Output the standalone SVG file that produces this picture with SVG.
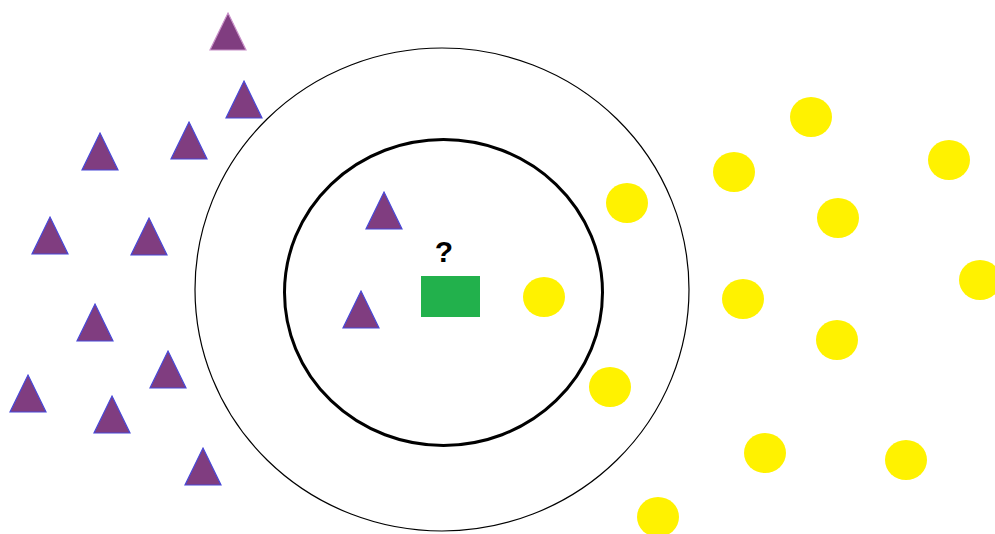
<svg xmlns="http://www.w3.org/2000/svg" width="995" height="534" viewBox="0 0 995 534">
<style>
.tri{fill:#803d80;stroke:#4848d8;stroke-width:1.2}
.dot{fill:#fff200}
.ring{fill:none;stroke:#000}
</style>
<defs>
<polygon id="t" points="0,0 18,37 -18,37"/>
<ellipse id="c" cx="0" cy="0" rx="21" ry="20"/>
</defs>
<rect width="995" height="534" fill="#fff"/>
<g id="rings">
<ellipse class="ring" cx="442" cy="289.5" rx="247" ry="241.5" stroke-width="1.2"/>
<ellipse class="ring" cx="443.5" cy="292.5" rx="159" ry="153" stroke-width="3"/>
</g>
<g id="triangles">
<use href="#t" class="tri" x="228" y="13" style="stroke:#c890c8"/>
<use href="#t" class="tri" x="244" y="81"/>
<use href="#t" class="tri" x="189" y="122"/>
<use href="#t" class="tri" x="100" y="133"/>
<use href="#t" class="tri" x="50" y="217"/>
<use href="#t" class="tri" x="149" y="218"/>
<use href="#t" class="tri" x="384" y="192"/>
<use href="#t" class="tri" x="361" y="291"/>
<use href="#t" class="tri" x="95" y="304"/>
<use href="#t" class="tri" x="168" y="351"/>
<use href="#t" class="tri" x="28" y="375"/>
<use href="#t" class="tri" x="112" y="396"/>
<use href="#t" class="tri" x="203" y="448"/>
</g>
<g id="circles">
<use href="#c" class="dot" x="811" y="117"/>
<use href="#c" class="dot" x="949" y="160"/>
<use href="#c" class="dot" x="734" y="172"/>
<use href="#c" class="dot" x="627" y="203"/>
<use href="#c" class="dot" x="838" y="218"/>
<use href="#c" class="dot" x="980" y="280"/>
<use href="#c" class="dot" x="544" y="297"/>
<use href="#c" class="dot" x="743" y="299"/>
<use href="#c" class="dot" x="837" y="340"/>
<use href="#c" class="dot" x="610" y="387"/>
<use href="#c" class="dot" x="765" y="453"/>
<use href="#c" class="dot" x="906" y="460"/>
<use href="#c" class="dot" x="658" y="517"/>
</g>
<g id="query">
<rect x="421" y="276" width="59" height="41" fill="#22b14c"/>
<text x="444" y="262" text-anchor="middle" font-family="Liberation Sans, Arial, sans-serif" font-weight="bold" font-size="30" fill="#000">?</text>
</g>
</svg>
